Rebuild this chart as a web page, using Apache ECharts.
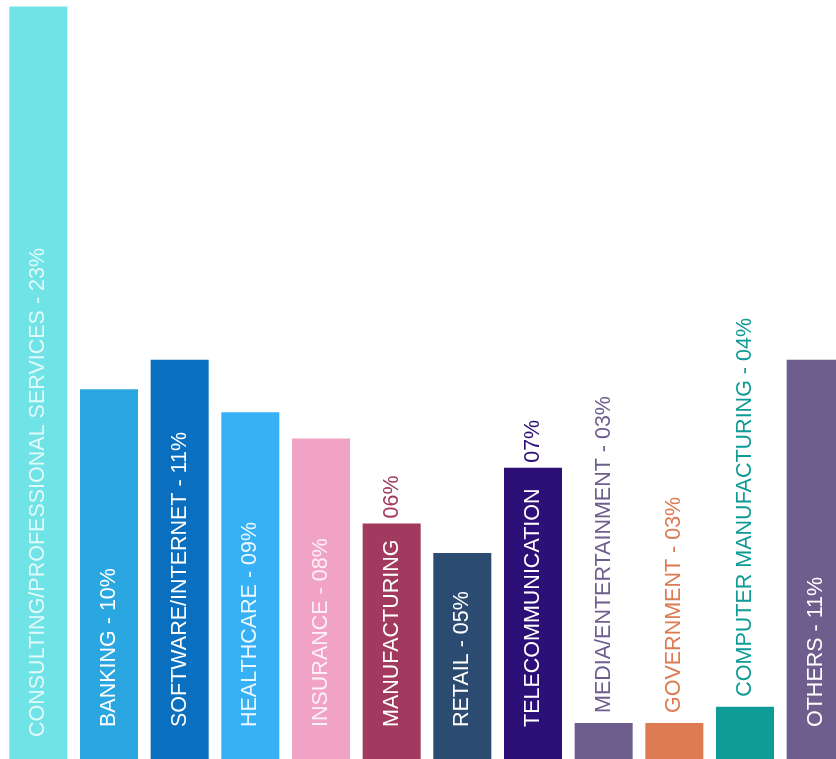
<!DOCTYPE html>
<html><head><meta charset="utf-8">
<script src="https://cdn.jsdelivr.net/npm/echarts@6/dist/echarts.min.js"></script>
<style>html,body{margin:0;padding:0;background:#fff}#c{width:836px;height:759px}</style>
</head><body><div id="c"></div>
<script>
// Categories (industry sectors)
const categories = ['Consulting/Professional Services','Banking','Software/Internet','Healthcare','Insurance','Manufacturing','Retail','Telecommunication','Media/Entertainment','Government','Computer Manufacturing','Others'];
// Bar heights as drawn in the picture (visual units, tallest = 23)
const barHeights = [23, 11.3, 12.2, 10.6, 9.8, 7.2, 6.3, 8.9, 1.1, 1.1, 1.6, 12.2];
// Label text: part printed inside the bar (white) and part above the bar (bar colour)
const labelInside = ['CONSULTING/PROFESSIONAL SERVICES - 23%','BANKING - 10%','SOFTWARE/INTERNET - 11%','HEALTHCARE - 09%','INSURANCE - 08%','MANUFACTURING','RETAIL - 05%','TELECOMMUNICATION','','','','OTHERS - 11%'];
const labelOutside = ['','','','','','06%','','07%','MEDIA/ENTERTAINMENT - 03%','GOVERNMENT - 03%','COMPUTER MANUFACTURING - 04%',''];
const colors = ['#6fe3e6','#2aa7e0','#0a6fbf','#37b1f6','#f0a3c4','#a13a5e','#2c4b70','#2d0f78','#6d5e8d','#dd7b52','#0f9b96','#6d5e8d'];
const insideColors = ['rgba(255,255,255,0.8)','#ffffff','#ffffff','rgba(255,255,255,0.9)','rgba(255,255,255,0.85)','#ffffff','#ffffff','#ffffff','#ffffff','#ffffff','#ffffff','#ffffff'];

const FONT = 'Liberation Sans';
const FS = 21.5;
const chart = echarts.init(document.getElementById('c'));

const mainData = barHeights.map((v, i) => ({
  value: v,
  itemStyle: { color: colors[i] },
  label: {
    show: !!labelInside[i],
    distance: i === 0 ? 22 : 32,
    formatter: labelInside[i],
    color: insideColors[i]
  }
}));
const topData = barHeights.map((v, i) => ({
  value: v,
  label: {
    show: !!labelOutside[i],
    distance: labelInside[i] ? 5 : 10,
    formatter: labelOutside[i],
    color: colors[i]
  }
}));

const labelBase = {
  rotate: 90,
  align: 'left',
  verticalAlign: 'middle',
  overflow: 'none',
  fontSize: FS,
  fontFamily: FONT
};

chart.setOption({
  animation: false,
  grid: { left: 3, top: 0, bottom: 0, width: 848, containLabel: false, outerBoundsMode: 'none' },
  xAxis: { type: 'category', data: categories, show: false },
  yAxis: { type: 'value', min: 0, max: 23.2, show: false },
  series: [
    {
      type: 'bar',
      barWidth: 58,
      data: mainData,
      label: Object.assign({ show: true, position: 'insideBottom' }, labelBase)
    },
    {
      type: 'bar',
      barWidth: 58,
      barGap: '-100%',
      silent: true,
      itemStyle: { color: 'rgba(0,0,0,0)' },
      data: topData,
      label: Object.assign({ show: true, position: 'top' }, labelBase)
    }
  ]
});
</script></body></html>
